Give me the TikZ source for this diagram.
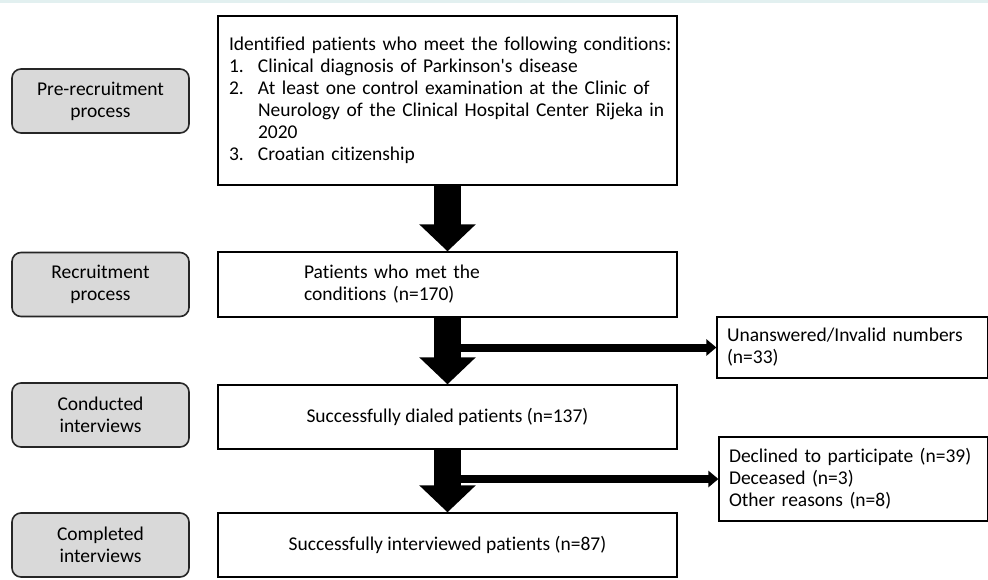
\documentclass[tikz,border=0pt]{standalone}
\usepackage{fontspec}
\setmainfont{Carlito}[Ligatures={NoCommon,TeXOff}]
\usetikzlibrary{arrows.meta}
\definecolor{sidegray}{HTML}{D9D9D9}
\definecolor{topband}{HTML}{E2F0F0}
\newcommand{\itm}[1]{\hspace*{11pt}\makebox[29pt][l]{#1}}
\newcommand{\cnt}{\hspace*{40pt}}
\begin{document}
\begin{tikzpicture}[x=1pt,y=-1pt,
  every node/.style={font=\fontsize{19.5}{22}\selectfont},
  mainbox/.style={draw=black, line width=1.4pt, rectangle, minimum width=459pt, inner ysep=0pt},
  sidebox/.style={draw=black!85, line width=1.6pt, fill=sidegray, rounded corners=9pt, minimum width=177pt, minimum height=64pt, align=center},
  rightbox/.style={draw=black, line width=1.2pt, rectangle, align=left, inner xsep=10pt, inner ysep=0pt},
  bigarrow/.style={line width=27pt, -{Triangle[width=55pt,length=27pt]}},
  sidearrow/.style={line width=8pt, -{Triangle[width=16pt,length=10pt]}}
]
\useasboundingbox (0,0) rectangle (988,579);
\fill[topband] (0,0) rectangle (988,2.5);

% side labels
\node[sidebox] (s1) at (100.5,101) {Pre-recruitment\\process};
\node[sidebox] (s2) at (100.5,284.5) {Recruitment\\process};
\node[sidebox] (s3) at (100.5,415) {Conducted\\interviews};
\node[sidebox] (s4) at (100.5,545) {Completed\\interviews};

% main boxes
\node[mainbox, minimum height=169pt, text width=459pt, inner xsep=0pt, align=left] (b1) at (447.5,100.5)
 {\hspace*{11pt}Identified patients who meet the following conditions:\\
  \itm{1.}Clinical diagnosis of Parkinson's disease\\
  \itm{2.}At least one control examination at the Clinic of\\
  \cnt Neurology of the Clinical Hospital Center Rijeka in\\
  \cnt 2020\\
  \itm{3.}Croatian citizenship};
\node[mainbox, minimum height=65pt, text width=287pt, inner xsep=86pt, align=left] (b2) at (447.5,284.5)
 {Patients who met the\\conditions (n=170)};
\node[mainbox, minimum height=64pt, align=center] (b3) at (447.5,417) {Successfully dialed patients (n=137)};
\node[mainbox, minimum height=64pt, align=center] (b4) at (447.5,545) {Successfully interviewed patients (n=87)};

% right boxes
\node[rightbox, minimum width=271pt, minimum height=61pt, text width=251pt] (r1) at (852.5,347.5)
 {Unanswered/Invalid numbers\\(n=33)};
\node[rightbox, minimum width=269pt, minimum height=84pt, text width=249pt] (r2) at (853.5,479)
 {Declined to participate (n=39)\\Deceased (n=3)\\Other reasons (n=8)};

% arrows
\draw[bigarrow] (b1.south) -- (b2.north);
\draw[bigarrow] (b2.south) -- (b3.north);
\draw[bigarrow] (b3.south) -- (b4.north);
\draw[sidearrow] (b2.south |- r1.west) -- (r1.west);
\draw[sidearrow] (b3.south |- r2.west) -- (r2.west);
\end{tikzpicture}
\end{document}
